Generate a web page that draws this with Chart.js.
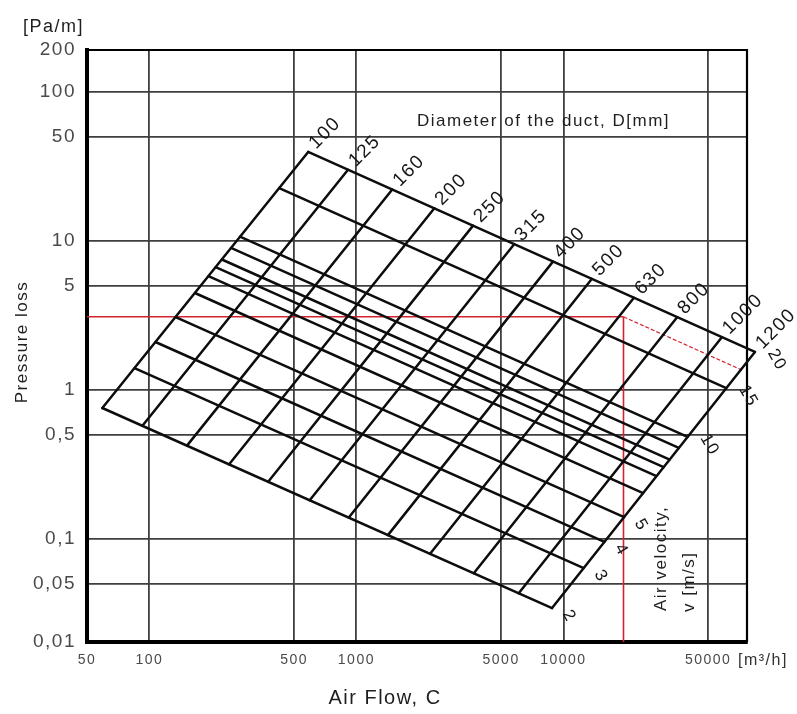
<!DOCTYPE html>
<html>
<head>
<meta charset="utf-8">
<title>Duct pressure loss chart</title>
<script src="https://cdn.jsdelivr.net/npm/chart.js@4.4.1/dist/chart.umd.min.js"></script>
<style>
  html, body { margin: 0; padding: 0; background: #ffffff; }
  #wrap { width: 797px; height: 714px; position: relative; }
</style>
</head>
<body>
<div id="wrap"><canvas id="chart" width="797" height="714"></canvas></div>
<script>
// Axis ranges (air flow in m3/h, pressure loss in Pa/m)
const flowMin = 50, flowMax = 77000;
const lossMin = 0.0203, lossMax = 192;

const flowTicks = [50, 100, 500, 1000, 5000, 10000, 50000];
const flowTickLabels = ['50', '100', '500', '1000', '5000', '10000', '50000'];
const lossTicks = [lossMin, 0.05, 0.1, 0.5, 1, 5, 10, 50, 100, lossMax];
const lossTickLabels = ['0,01', '0,05', '0,1', '0,5', '1', '5', '10', '50', '100', '200'];

// Duct diameters [mm]; each line runs from the slowest to the fastest velocity line
const diameters = [100, 125, 160, 200, 250, 315, 400, 500, 630, 800, 1000, 1200];
const diameterLowFlow  = [59.3, 92.6, 152, 243, 375, 595, 919, 1420, 2270, 3690, 6080, 8810];
const diameterLowLoss  = [0.757, 0.575, 0.423, 0.317, 0.242, 0.182, 0.139, 0.106, 0.0794, 0.0588, 0.0432, 0.0343];
const diameterHighFlow = [585, 911, 1490, 2380, 3660, 5780, 8900, 13700, 21900, 35400, 58200, 84100];
const diameterHighLoss = [39.7, 30.1, 22.2, 16.6, 12.7, 9.53, 7.28, 5.57, 4.16, 3.08, 2.26, 1.80];

// Air velocity lines [m/s]; each runs from the 100 mm line to the 1200 mm line
const velocityLabels    = ['2', '3', '4', '5', '', '', '', '', '', '10', '15', '20'];
const velocityStartFlow = [59.3, 84.8, 107, 134, 166, 193, 209, 224, 248, 274, 424, 585];
const velocityStartLoss = [0.757, 1.40, 2.10, 3.09, 4.48, 5.81, 6.68, 7.52, 8.99, 10.7, 22.7, 39.7];
const velocityEndFlow   = [8810, 12530, 15770, 19630, 24260, 28150, 30460, 32610, 36080, 39760, 61170, 84100];
const velocityEndLoss   = [0.0343, 0.0637, 0.0954, 0.140, 0.203, 0.264, 0.303, 0.341, 0.408, 0.484, 1.03, 1.80];

// Worked example: design flow and its pressure loss
const designFlow = 19500, designLoss = 3.1;
const designVelocityEndFlow = 72800, designVelocityEndLoss = 1.36;

const FONT = '"Liberation Sans", Arial, Helvetica, sans-serif';
const INK = '#0d0d0d';
const RED = '#d2232f';

const lineStyle = { borderColor: INK, borderWidth: 2.5, pointRadius: 0, pointHoverRadius: 0,
                    clip: false, tension: 0, borderCapStyle: 'round', fill: false, order: 0 };

const datasets = [];
diameters.forEach((d, i) => {
  datasets.push(Object.assign({ label: 'D ' + d,
    data: [{ x: diameterLowFlow[i], y: diameterLowLoss[i] }, { x: diameterHighFlow[i], y: diameterHighLoss[i] }]
  }, lineStyle));
});
velocityLabels.forEach((v, i) => {
  datasets.push(Object.assign({ label: 'v ' + i,
    data: [{ x: velocityStartFlow[i], y: velocityStartLoss[i] }, { x: velocityEndFlow[i], y: velocityEndLoss[i] }]
  }, lineStyle));
});
// red construction lines of the example
datasets.push({ label: 'loss', data: [{ x: flowMin, y: designLoss }, { x: designFlow, y: designLoss }],
  borderColor: RED, borderWidth: 1.6, pointRadius: 0, clip: false, order: 2 });
datasets.push({ label: 'flow', data: [{ x: designFlow, y: designLoss }, { x: designFlow, y: lossMin }],
  borderColor: RED, borderWidth: 1.6, pointRadius: 0, clip: false, order: 2 });
datasets.push({ label: 'velocity', data: [{ x: designFlow, y: designLoss }, { x: designVelocityEndFlow, y: designVelocityEndLoss }],
  borderColor: RED, borderWidth: 1.2, borderDash: [4, 2], pointRadius: 0, clip: false, order: 2 });

const nomogramText = {
  id: 'nomogramText',
  beforeDraw(chart) {
    chart.ctx.letterSpacing = '1.5px';
  },
  beforeDatasetsDraw(chart) {
    const { ctx, chartArea: a } = chart;
    ctx.save();
    ctx.strokeStyle = '#000';
    ctx.lineWidth = 2.2;
    ctx.beginPath();
    ctx.moveTo(a.left, a.top); ctx.lineTo(a.right, a.top); ctx.lineTo(a.right, a.bottom);
    ctx.stroke();
    ctx.restore();
  },
  afterDraw(chart) {
    const { ctx, scales: { x, y } } = chart;
    ctx.save();
    ctx.letterSpacing = '1.5px';
    ctx.fillStyle = '#161616';

    // diameter labels at the upper end of each diameter line
    ctx.font = '19px ' + FONT;
    ctx.textAlign = 'left';
    ctx.textBaseline = 'middle';
    diameters.forEach((d, i) => {
      const px = x.getPixelForValue(diameterHighFlow[i]);
      const py = y.getPixelForValue(diameterHighLoss[i]);
      ctx.save();
      ctx.translate(px + 4, py - 6);
      ctx.rotate(-Math.PI / 4);
      ctx.fillText(String(d), 0, 0);
      ctx.restore();
    });

    // velocity labels beyond the 1200 mm line
    ctx.font = '17px ' + FONT;
    ctx.textAlign = 'center';
    velocityLabels.forEach((v, i) => {
      if (!v) return;
      const px = x.getPixelForValue(velocityEndFlow[i]);
      const py = y.getPixelForValue(velocityEndLoss[i]);
      ctx.save();
      ctx.translate(px + 12 + 5 * v.length, py + 8);
      ctx.rotate(Math.PI / 3);
      ctx.fillText(v, 0, 0);
      ctx.restore();
    });

    // titles and units
    ctx.fillStyle = '#1e1e1e';
    ctx.textAlign = 'left';
    ctx.font = '17px ' + FONT;
    ctx.fillText('Diameter of the duct, D[mm]', 417, 121);

    ctx.font = '18px ' + FONT;
    ctx.fillText('[Pa/m]', 23, 27);

    ctx.font = '16px ' + FONT;
    ctx.fillStyle = '#333';
    ctx.fillText('[m\u00b3/h]', 738, 661);

    ctx.fillStyle = '#1e1e1e';
    ctx.font = '20px ' + FONT;
    ctx.textAlign = 'center';
    ctx.fillText('Air Flow, C', 385, 698);

    ctx.save();
    ctx.translate(22, 342);
    ctx.rotate(-Math.PI / 2);
    ctx.font = '17px ' + FONT;
    ctx.fillText('Pressure loss', 0, 0);
    ctx.restore();

    ctx.font = '17px ' + FONT;
    ctx.textAlign = 'left';
    ctx.save();
    ctx.translate(661, 611);
    ctx.rotate(-Math.PI / 2);
    ctx.fillText('Air velocity,', 0, 0);
    ctx.restore();
    ctx.save();
    ctx.translate(689, 612);
    ctx.rotate(-Math.PI / 2);
    ctx.fillText('v [m/s]', 0, 0);
    ctx.restore();

    ctx.restore();
  }
};

new Chart(document.getElementById('chart'), {
  type: 'line',
  data: { datasets },
  plugins: [nomogramText],
  options: {
    responsive: false,
    devicePixelRatio: 1,
    animation: false,
    events: [],
    layout: { padding: { top: 50, right: 50, left: 0, bottom: 0 } },
    plugins: { legend: { display: false }, tooltip: { enabled: false }, title: { display: false } },
    scales: {
      x: {
        type: 'logarithmic',
        min: flowMin,
        max: flowMax,
        afterBuildTicks: (axis) => { axis.ticks = flowTicks.map(v => ({ value: v })); },
        afterFit: (axis) => { axis.height = 72; },
        ticks: {
          autoSkip: false, maxRotation: 0, minRotation: 0, padding: 10,
          color: '#4a4a4a', font: { family: FONT, size: 14 },
          callback: (value) => { const k = flowTicks.indexOf(value); return k >= 0 ? flowTickLabels[k] : ''; }
        },
        grid: { color: '#3f3f3f', lineWidth: 1.8, drawTicks: false },
        border: { color: '#000', width: 4 }
      },
      y: {
        type: 'logarithmic',
        min: lossMin,
        max: lossMax,
        afterBuildTicks: (axis) => { axis.ticks = lossTicks.map(v => ({ value: v })); },
        afterFit: (axis) => { axis.width = 87; },
        ticks: {
          autoSkip: false, padding: 11,
          color: '#4a4a4a', font: { family: FONT, size: 19 },
          callback: (value) => { const k = lossTicks.indexOf(value); return k >= 0 ? lossTickLabels[k] : ''; }
        },
        grid: { color: '#3f3f3f', lineWidth: 1.8, drawTicks: false },
        border: { color: '#000', width: 4 }
      }
    }
  }
});
</script>
</body>
</html>
